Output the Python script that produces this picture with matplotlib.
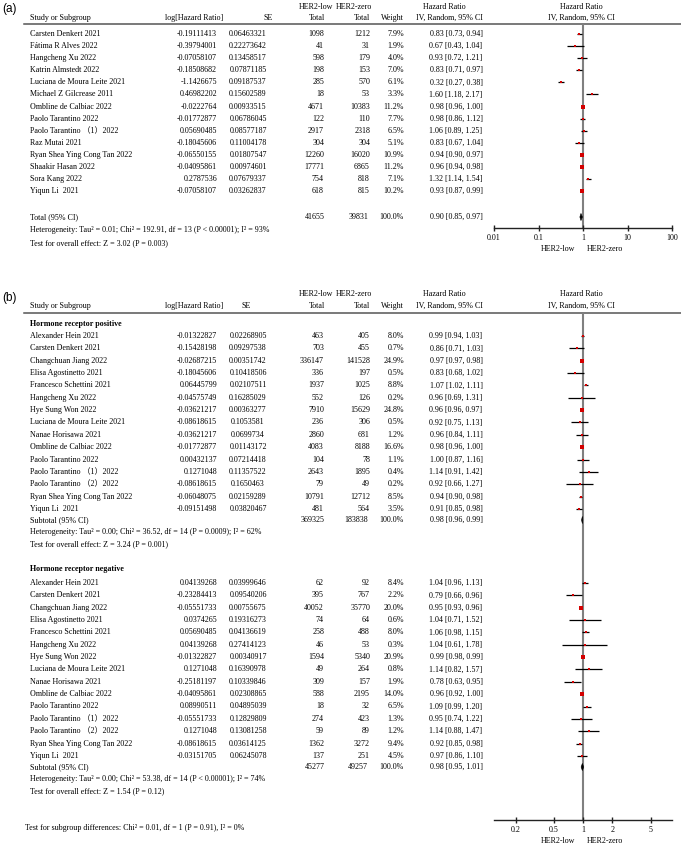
import matplotlib
matplotlib.use('Agg')
import matplotlib.pyplot as plt
import numpy as np
from matplotlib.patches import Polygon
from matplotlib.ticker import NullLocator

plt.rcParams['font.family'] = ['Liberation Serif', 'Noto Sans CJK SC']

# ---------------- data: panel (a) ----------------
studies_a = ["Carsten Denkert 2021", "Fátima R Alves 2022", "Hangcheng Xu 2022",
             "Katrin Almstedt 2022", "Luciana de Moura Leite 2021", "Michael Z Gilcrease 2011",
             "Ombline de Calbiac 2022", "Paolo Tarantino 2022", "Paolo Tarantino （1）2022",
             "Raz Mutai 2021", "Ryan Shea Ying Cong Tan 2022", "Shaakir Hasan 2022",
             "Sora Kang 2022", "Yiqun Li  2021"]
loghr_a = ["-0.19111413", "-0.39794001", "-0.07058107", "-0.18508682", "-1.1426675",
           "0.46982202", "-0.0222764", "-0.01772877", "0.05690485", "-0.18045606",
           "-0.06550155", "-0.04095861", "0.2787536", "-0.07058107"]
se_a = ["0.06463321", "0.22273642", "0.13458517", "0.07871185", "0.09187537", "0.15602589",
        "0.00933515", "0.06786045", "0.08577187", "0.11004178", "0.01807547", "0.00974601",
        "0.07679337", "0.03262837"]
low_a = [1098, 41, 598, 198, 285, 18, 4671, 122, 2917, 304, 12260, 17771, 754, 618]
zero_a = [1212, 31, 179, 153, 570, 53, 10383, 110, 2318, 304, 16020, 6865, 818, 815]
weight_a = [7.9, 1.9, 4.0, 7.0, 6.1, 3.3, 11.2, 7.7, 6.5, 5.1, 10.9, 11.2, 7.1, 10.2]
hr_a = [0.83, 0.67, 0.93, 0.83, 0.32, 1.60, 0.98, 0.98, 1.06, 0.83, 0.94, 0.96, 1.32, 0.93]
lo_a = [0.73, 0.43, 0.72, 0.71, 0.27, 1.18, 0.96, 0.86, 0.89, 0.67, 0.90, 0.94, 1.14, 0.87]
hi_a = [0.94, 1.04, 1.21, 0.97, 0.38, 2.17, 1.00, 1.12, 1.25, 1.04, 0.97, 0.98, 1.54, 0.99]
total_a = dict(low=41655, zero=39831, hr=0.90, lo=0.85, hi=0.97)
het_a = "Heterogeneity: Tau² = 0.01; Chi² = 192.91, df = 13 (P < 0.00001); I² = 93%"
test_a = "Test for overall effect: Z = 3.02 (P = 0.003)"
ticks_a = [0.01, 0.1, 1, 10, 100]
ticklabels_a = ["0.01", "0.1", "1", "10", "100"]

# ---------------- data: panel (b) ----------------
studies_b = ["Alexander Hein 2021", "Carsten Denkert 2021", "Changchuan Jiang 2022",
             "Elisa Agostinetto 2021", "Francesco Schettini 2021", "Hangcheng Xu 2022",
             "Hye Sung Won 2022", "Luciana de Moura Leite 2021", "Nanae Horisawa 2021",
             "Ombline de Calbiac 2022", "Paolo Tarantino 2022", "Paolo Tarantino （1）2022",
             "Paolo Tarantino （2）2022", "Ryan Shea Ying Cong Tan 2022", "Yiqun Li  2021"]
# hormone receptor positive
loghr_pos = ["-0.01322827", "-0.15428198", "-0.02687215", "-0.18045606", "0.06445799",
             "-0.04575749", "-0.03621217", "-0.08618615", "-0.03621217", "-0.01772877",
             "0.00432137", "0.1271048", "-0.08618615", "-0.06048075", "-0.09151498"]
se_pos = ["0.02268905", "0.09297538", "0.00351742", "0.10418506", "0.02107511", "0.16285029",
          "0.00363277", "0.1053581", "0.0699734", "0.01143172", "0.07214418", "0.11357522",
          "0.1650463", "0.02159289", "0.03820467"]
low_pos = [463, 703, 336147, 336, 1937, 552, 7910, 236, 2860, 4083, 104, 2643, 79, 10791, 481]
zero_pos = [405, 455, 141528, 197, 1025, 126, 15629, 306, 681, 8188, 78, 1895, 49, 12712, 564]
weight_pos = [8.0, 0.7, 24.9, 0.5, 8.8, 0.2, 24.8, 0.5, 1.2, 16.6, 1.1, 0.4, 0.2, 8.5, 3.5]
hr_pos = [0.99, 0.86, 0.97, 0.83, 1.07, 0.96, 0.96, 0.92, 0.96, 0.98, 1.00, 1.14, 0.92, 0.94, 0.91]
lo_pos = [0.94, 0.71, 0.97, 0.68, 1.02, 0.69, 0.96, 0.75, 0.84, 0.96, 0.87, 0.91, 0.66, 0.90, 0.85]
hi_pos = [1.03, 1.03, 0.98, 1.02, 1.11, 1.31, 0.97, 1.13, 1.11, 1.00, 1.16, 1.42, 1.27, 0.98, 0.98]
sub_pos = dict(low=369325, zero=183838, hr=0.98, lo=0.96, hi=0.99)
het_pos = "Heterogeneity: Tau² = 0.00; Chi² = 36.52, df = 14 (P = 0.0009); I² = 62%"
test_pos = "Test for overall effect: Z = 3.24 (P = 0.001)"
# hormone receptor negative
loghr_neg = ["0.04139268", "-0.23284413", "-0.05551733", "0.0374265", "0.05690485",
             "0.04139268", "-0.01322827", "0.1271048", "-0.25181197", "-0.04095861",
             "0.08990511", "-0.05551733", "0.1271048", "-0.08618615", "-0.03151705"]
se_neg = ["0.03999646", "0.09540206", "0.00755675", "0.19316273", "0.04136619", "0.27414123",
          "0.00340917", "0.16390978", "0.10339846", "0.02308865", "0.04895039", "0.12829809",
          "0.13081258", "0.03614125", "0.06245078"]
low_neg = [62, 395, 40052, 74, 258, 46, 1594, 49, 309, 588, 18, 274, 59, 1362, 137]
zero_neg = [92, 767, 35770, 64, 488, 53, 5340, 264, 157, 2195, 32, 423, 89, 3272, 251]
weight_neg = [8.4, 2.2, 20.0, 0.6, 8.0, 0.3, 20.9, 0.8, 1.9, 14.0, 6.5, 1.3, 1.2, 9.4, 4.5]
hr_neg = [1.04, 0.79, 0.95, 1.04, 1.06, 1.04, 0.99, 1.14, 0.78, 0.96, 1.09, 0.95, 1.14, 0.92, 0.97]
lo_neg = [0.96, 0.66, 0.93, 0.71, 0.98, 0.61, 0.98, 0.82, 0.63, 0.92, 0.99, 0.74, 0.88, 0.85, 0.86]
hi_neg = [1.13, 0.96, 0.96, 1.52, 1.15, 1.78, 0.99, 1.57, 0.95, 1.00, 1.20, 1.22, 1.47, 0.98, 1.10]
sub_neg = dict(low=45277, zero=49257, hr=0.98, lo=0.95, hi=1.01)
het_neg = "Heterogeneity: Tau² = 0.00; Chi² = 53.38, df = 14 (P < 0.00001); I² = 74%"
test_neg = "Test for overall effect: Z = 1.54 (P = 0.12)"
test_sub = "Test for subgroup differences: Chi² = 0.01, df = 1 (P = 0.91), I² = 0%"
ticks_b = [0.2, 0.5, 1, 2, 5]
ticklabels_b = ["0.2", "0.5", "1", "2", "5"]

# ---------------- layout ----------------
W, H = 681, 846
fig = plt.figure(figsize=(W / 100, H / 100), dpi=100)
bg = fig.add_axes([0, 0, 1, 1])
bg.set_xlim(0, W)
bg.set_ylim(H, 0)
bg.axis('off')

FS = 5.8
RED = '#d40000'
X_NAME, X_LOG, X_LOW, X_ZERO, X_W, X_HR = 30, 217, 324, 370, 404, 456


def T(x, y, s, ha='left', fs=FS, **kw):
    bg.text(x, y, s, ha=ha, va='center', fontsize=fs, **kw)


def header(y1, y2, yline, x_se):
    T(333, y1, "HER2-low", ha='right')
    T(336, y1, "HER2-zero", ha='left')
    T(444, y1, "Hazard Ratio", ha='center')
    T(581, y1, "Hazard Ratio", ha='center')
    T(X_NAME, y2, "Study or Subgroup")
    T(223, y2, "log[Hazard Ratio]", ha='right')
    T(x_se, y2, "SE", ha='right')
    T(X_LOW + 1, y2, "Total", ha='right')
    T(X_ZERO, y2, "Total", ha='right')
    T(X_W, y2, "Weight", ha='right')
    T(449, y2, "IV, Random, 95% CI", ha='center')
    T(581, y2, "IV, Random, 95% CI", ha='center')
    bg.plot([24, W], [yline, yline], color='#555555', lw=1.1)


def forest_ax(top, bottom, xlim, ticks, labels, ylab):
    ax = fig.add_axes([494 / W, 1 - bottom / H, 178 / W, (bottom - top) / H])
    ax.set_xscale('log')
    ax.set_xlim(*xlim)
    ax.set_ylim(bottom, top)
    ax.patch.set_alpha(0)
    for s in ['top', 'left', 'right']:
        ax.spines[s].set_visible(False)
    ax.spines['bottom'].set_linewidth(1.0)
    ax.spines['bottom'].set_color('#222222')
    ax.set_yticks([])
    ax.set_xticks(ticks)
    ax.set_xticklabels(labels)
    ax.xaxis.set_minor_locator(NullLocator())
    ax.tick_params(axis='x', direction='inout', length=5, width=1.0,
                   labelsize=FS, pad=1.5, color='#222222')
    ax.axvline(1, color='#808080', lw=1.5, zorder=1)
    T(558, ylab, "HER2-low", ha='center')
    T(605, ylab, "HER2-zero", ha='center')
    return ax


def study_rows(ax, ys, names, lg, se, low, zero, w, hr, lo, hi):
    for i, y in enumerate(ys):
        T(X_NAME, y, names[i])
        T(X_LOG, y, lg[i], ha='right')
        T(X_SE, y, se[i], ha='center')
        T(X_LOW, y, str(low[i]), ha='right')
        T(X_ZERO, y, str(zero[i]), ha='right')
        T(X_W, y, f"{w[i]:.1f}%", ha='right')
        T(X_HR, y, f"{hr[i]:.2f} [{lo[i]:.2f}, {hi[i]:.2f}]", ha='center')
        ax.plot([lo[i], hi[i]], [y, y], color='black', lw=0.9, zorder=2,
                solid_capstyle='butt')
        side = max(1.4, 0.95 * np.sqrt(w[i])) * 0.72
        ax.scatter([hr[i]], [y], marker='s', s=side ** 2, color=RED,
                   linewidths=0, zorder=3)


def summary_row(ax, y, label, d):
    T(X_NAME, y, label)
    T(X_LOW + 1, y, str(d['low']), ha='right')
    T(X_ZERO - 2, y, str(d['zero']), ha='right')
    T(X_W, y, "100.0%", ha='right')
    T(X_HR, y, f"{d['hr']:.2f} [{d['lo']:.2f}, {d['hi']:.2f}]", ha='center')
    h = 3.6
    ax.add_patch(Polygon([[d['lo'], y], [d['hr'], y - h], [d['hi'], y], [d['hr'], y + h]],
                         closed=True, facecolor='black', edgecolor='black', lw=0.4,
                         zorder=3))


# ---- panel (a) ----
bg.text(2, 9, "(a)", ha='left', va='center', fontsize=8.5,
        family=['Liberation Sans'])
header(7, 18, 24.5, 273)
X_SE = 248
axA = forest_ax(24.5, 228, (0.01, 100), ticks_a, ticklabels_a, 249)
ya = 34 + 12.1 * np.arange(len(studies_a))
study_rows(axA, ya, studies_a, loghr_a, se_a, low_a, zero_a, weight_a, hr_a, lo_a, hi_a)
summary_row(axA, 217, "Total (95% CI)", total_a)
T(X_NAME, 230, het_a)
T(X_NAME, 243, test_a)

# ---- panel (b) ----
bg.text(2, 298, "(b)", ha='left', va='center', fontsize=8.5,
        family=['Liberation Sans'])
header(294, 306, 313, 251)
xlim_b = (10 ** -0.923, 10 ** 0.918)
axB = forest_ax(313, 820, xlim_b, ticks_b, ticklabels_b, 841)

T(X_NAME, 324, "Hormone receptor positive", weight='bold')
yp = 336 + 12.35 * np.arange(len(studies_b))
study_rows(axB, yp, studies_b, loghr_pos, se_pos, low_pos, zero_pos, weight_pos,
           hr_pos, lo_pos, hi_pos)
summary_row(axB, 520, "Subtotal (95% CI)", sub_pos)
T(X_NAME, 532, het_pos)
T(X_NAME, 544, test_pos)

T(X_NAME, 569, "Hormone receptor negative", weight='bold')
yn = 583 + 12.35 * np.arange(len(studies_b))
study_rows(axB, yn, studies_b, loghr_neg, se_neg, low_neg, zero_neg, weight_neg,
           hr_neg, lo_neg, hi_neg)
summary_row(axB, 767, "Subtotal (95% CI)", sub_neg)
T(X_NAME, 779, het_neg)
T(X_NAME, 791, test_neg)

T(25, 828, test_sub)

fig.savefig("out.png", dpi=100)
